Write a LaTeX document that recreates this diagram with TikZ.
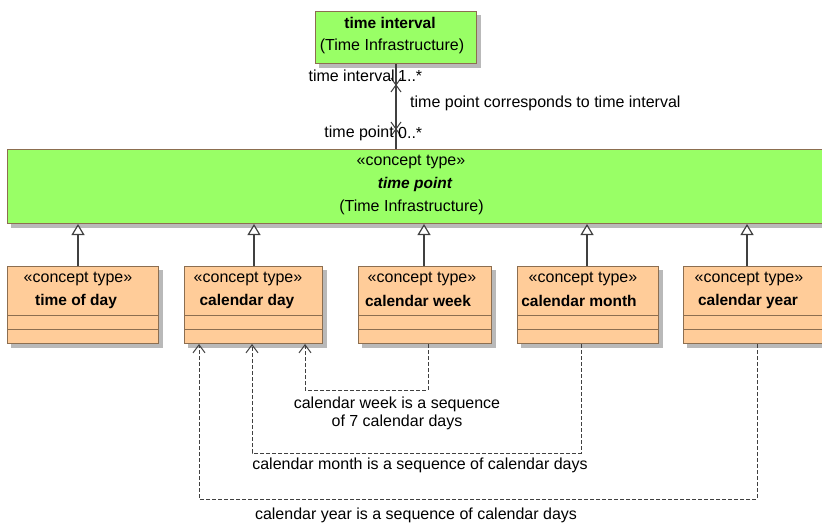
\documentclass[tikz,border=0pt]{standalone}
\usepackage{fontspec}
\setmainfont{Liberation Sans}
\usetikzlibrary{arrows.meta,calc,backgrounds}
\definecolor{boxgreen}{RGB}{153,255,102}
\definecolor{boxorange}{RGB}{255,204,153}
\definecolor{boxborder}{RGB}{140,110,80}
\definecolor{linegray}{RGB}{64,64,64}
\definecolor{shadowgray}{RGB}{185,185,185}
\tikzset{
  umlbox/.style={draw=boxborder, line width=1pt, rectangle, inner sep=0pt, anchor=north west},
  txt/.style={inner sep=0pt, text=black},
  bname/.style={inner sep=0pt, text=black, font=\fontsize{15.5}{18}\selectfont\bfseries},
  gen/.style={draw=linegray, line width=1.2pt, -{Triangle[open, length=11pt, width=13pt, fill=white]}},
  dep/.style={draw=linegray, line width=1pt, dash pattern=on 4pt off 2pt, -{Straight Barb[length=8pt, width=12pt]}},
  assoc/.style={draw=linegray, line width=1.2pt},
  cmpline/.style={draw=boxborder, line width=1pt}
}
\begin{document}
\begin{tikzpicture}[x=1pt,y=-1pt, font=\fontsize{16}{19}\selectfont]
\useasboundingbox (0,0) rectangle (822,524);
\clip (0,0) rectangle (822,524);

% top box
\node[umlbox, fill=boxgreen, minimum width=161pt, minimum height=52pt] (ti) at (315,11) {};
\node[bname] (tiname) at (390,23) {time interval};
\node[txt] (tipkg) at (392,46) {(Time Infrastructure)};

% big box
\node[umlbox, fill=boxgreen, minimum width=830pt, minimum height=74pt] (tp) at (7,149) {};
\node[txt] (tpst) at (411,162) {«concept type»};
\node[bname, font=\fontsize{15.5}{18}\selectfont\bfseries\itshape] (tpname) at (415,184) {time point};
\node[txt] (tppkg) at (411.5,207) {(Time Infrastructure)};

% association
\draw[assoc] (ti.south -| 396,0) coordinate (atop) -- (tp.north -| 396,0) coordinate (abot);
\coordinate (x1) at ($(atop)+(0,21)$);
\coordinate (x2) at ($(abot)+(0,-20)$);
\draw[assoc, line width=1pt] ($(x1)+(-5,-7)$) -- ($(x1)+(5,7)$);
\draw[assoc, line width=1pt] ($(x1)+(5,-7)$) -- ($(x1)+(-5,7)$);
\draw[assoc, line width=1pt] ($(x2)+(-5,-7)$) -- ($(x2)+(5,7)$);
\draw[assoc, line width=1pt] ($(x2)+(5,-7)$) -- ($(x2)+(-5,7)$);
\node[txt, anchor=east] (rtop) at (395,76) {time interval};
\node[txt, anchor=west] (mtop) at (398,76) {1..*};
\node[txt, anchor=east] (rbot) at (394,133) {time point};
\node[txt, anchor=west] (mbot) at (398,133) {0..*};
\node[txt, anchor=west] (aname) at (410,103) {time point corresponds to time interval};

% small boxes
\node[umlbox, fill=boxorange, minimum width=151pt, minimum height=77pt] (tod) at (7,266) {};
\node[umlbox, fill=boxorange, minimum width=138pt, minimum height=77pt] (cd) at (184,266) {};
\node[umlbox, fill=boxorange, minimum width=133pt, minimum height=77pt] (wk) at (358,266) {};
\node[umlbox, fill=boxorange, minimum width=141pt, minimum height=77pt] (mo) at (517,266) {};
\node[umlbox, fill=boxorange, minimum width=150pt, minimum height=77pt] (yr) at (683,266) {};

\begin{scope}[on background layer]
  \fill[white] (0,0) rectangle (822,524);
  \foreach \b in {ti,tp,tod,cd,wk,mo,yr}{
    \fill[shadowgray] ($(\b.north west)+(4,4)$) rectangle ($(\b.south east)+(4,4)$);
  }
\end{scope}

\foreach \b in {tod,cd,wk,mo,yr}{
  \draw[cmpline] ($(\b.north west)+(0,49)$) -- ($(\b.north east)+(0,49)$);
  \draw[cmpline] ($(\b.north west)+(0,63)$) -- ($(\b.north east)+(0,63)$);
}

\node[txt] (todst) at (78,279) {«concept type»};
\node[bname] (todn) at (76,301) {time of day};
\node[txt] (cdst) at (248,279) {«concept type»};
\node[bname] (cdn) at (247,301) {calendar day};
\node[txt] (wkst) at (422,279) {«concept type»};
\node[bname] (wkn) at (418,301) {calendar week};
\node[txt] (most) at (583,279) {«concept type»};
\node[bname] (mon) at (579,301) {calendar month};
\node[txt] (yrst) at (749,279) {«concept type»};
\node[bname] (yrn) at (748,301) {calendar year};

% generalizations
\coordinate (g1) at ($(tod.north west)+(71,0)$);
\coordinate (g2) at ($(cd.north west)+(70,0)$);
\coordinate (g3) at ($(wk.north west)+(66,0)$);
\coordinate (g4) at ($(mo.north west)+(70,0)$);
\coordinate (g5) at ($(yr.north west)+(64,0)$);
\foreach \g in {g1,g2,g3,g4,g5}{
  \draw[gen] (\g) -- (\g |- tp.south);
}

% dependencies
\draw[dep] ($(wk.south west)+(70,0)$) -- ++(0,46) -| ($(cd.south west)+(121,0)$);
\draw[dep] ($(mo.south west)+(64,0)$) -- ++(0,109) -| ($(cd.south west)+(68,0)$);
\draw[dep] ($(yr.south west)+(74,0)$) -- ++(0,155) -| ($(cd.south west)+(15,0)$);

\node[txt, align=center, font=\fontsize{16}{18}\selectfont] (wklbl) at (397,413) {calendar week is a sequence\\of 7 calendar days};
\node[txt] (molbl) at (420,465) {calendar month is a sequence of calendar days};
\node[txt] (yrlbl) at (416,515) {calendar year is a sequence of calendar days};
\end{tikzpicture}
\end{document}
